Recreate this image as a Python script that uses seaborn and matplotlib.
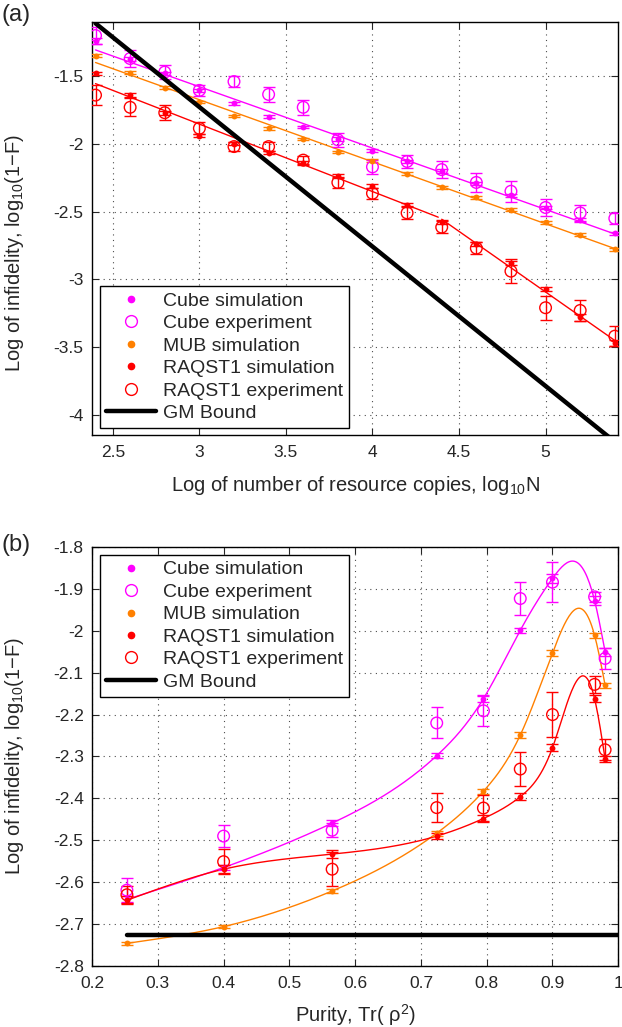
import numpy as np
import pandas as pd
import seaborn as sns
import matplotlib
matplotlib.use("Agg")
from matplotlib import pyplot as plt
from matplotlib.lines import Line2D

# ---- (a) infidelity vs number of resource copies ----
log_n = [2.4, 2.6, 2.8, 3.0, 3.2, 3.4, 3.6, 3.8, 4.0, 4.2, 4.4, 4.6, 4.8, 5.0, 5.2, 5.4]
cube_sim_a = [-1.24, -1.37, -1.48, -1.605, -1.70, -1.80, -1.875, -1.965,
              -2.05, -2.13, -2.20, -2.29, -2.38, -2.47, -2.56, -2.66]
cube_sim_a_err = [0.02, 0.015, 0.012, 0.012, 0.01, 0.01, 0.01, 0.012,
                  0.01, 0.012, 0.012, 0.012, 0.012, 0.012, 0.015, 0.012]
cube_exp_a = [-1.20, -1.37, -1.47, -1.605, -1.54, -1.635, -1.73, -1.97,
              -2.17, -2.13, -2.19, -2.285, -2.35, -2.47, -2.51, -2.55]
cube_exp_a_err = [0.06, 0.064, 0.053, 0.04, 0.04, 0.058, 0.054, 0.05,
                  0.05, 0.05, 0.06, 0.07, 0.077, 0.06, 0.058, 0.04]
mub_sim_a = [-1.35, -1.475, -1.585, -1.69, -1.795, -1.885, -1.965, -2.06,
             -2.125, -2.22, -2.32, -2.395, -2.485, -2.58, -2.67, -2.78]
mub_sim_a_err = [0.01, 0.01, 0.01, 0.01, 0.01, 0.01, 0.01, 0.01,
                 0.012, 0.012, 0.01, 0.01, 0.012, 0.01, 0.012, 0.012]
raq_sim_a = [-1.48, -1.64, -1.77, -1.94, -2.00, -2.065, -2.14, -2.24,
             -2.31, -2.45, -2.58, -2.74, -2.88, -3.075, -3.28, -3.47]
raq_sim_a_err = [0.012, 0.015, 0.015, 0.012, 0.012, 0.012, 0.015, 0.015,
                 0.015, 0.015, 0.015, 0.015, 0.015, 0.015, 0.025, 0.02]
raq_exp_a = [-1.64, -1.73, -1.77, -1.885, -2.02, -2.02, -2.12, -2.285,
             -2.365, -2.51, -2.615, -2.77, -2.94, -3.21, -3.23, -3.42]
raq_exp_a_err = [0.076, 0.065, 0.055, 0.045, 0.035, 0.035, 0.03, 0.04,
                 0.04, 0.048, 0.043, 0.043, 0.088, 0.09, 0.08, 0.076]
gm_a_x = [2.4, 5.4]
gm_a_y = [-1.11, -4.20]
raq_break = 4.4

# ---- (b) infidelity vs purity ----
purity = [0.253, 0.40, 0.565, 0.724, 0.795, 0.851, 0.90, 0.964, 0.98]
cube_sim_b = [-2.641, -2.565, -2.459, -2.298, -2.162, -1.999, -1.875, -1.928, -2.05]
cube_sim_b_err = [0.008, 0.006, 0.008, 0.006, 0.008, 0.006, 0.01, 0.01, 0.01]
cube_exp_b = [-2.619, -2.49, -2.476, -2.22, -2.191, -1.923, -1.884, -1.919, -2.066]
cube_exp_b_err = [0.028, 0.027, 0.017, 0.037, 0.036, 0.04, 0.048, 0.012, 0.025]
mub_sim_b = [-2.746, -2.706, -2.621, -2.483, -2.383, -2.249, -2.053, -2.011, -2.130]
mub_sim_b_err = [0.004, 0.004, 0.004, 0.006, 0.006, 0.008, 0.008, 0.006, 0.006]
raq_sim_b = [-2.643, -2.569, -2.533, -2.49, -2.448, -2.396, -2.279, -2.162, -2.306]
raq_sim_b_err = [0.01, 0.01, 0.01, 0.008, 0.008, 0.008, 0.008, 0.008, 0.006]
raq_exp_b = [-2.63, -2.551, -2.569, -2.422, -2.423, -2.33, -2.20, -2.128, -2.284]
raq_exp_b_err = [0.02, 0.03, 0.04, 0.035, 0.03, 0.04, 0.053, 0.02, 0.025]
gm_b_x = [0.253, 1.0]
gm_b_y = [-2.727, -2.727]

MAGENTA = "#ff00ff"
ORANGE = "#ff8000"
RED = "#ff0000"


def natural_spline(x, y, xs):
    x = np.asarray(x, float)
    y = np.asarray(y, float)
    n = len(x)
    h = np.diff(x)
    A = np.zeros((n, n))
    b = np.zeros(n)
    A[0, 0] = A[-1, -1] = 1
    for i in range(1, n - 1):
        A[i, i - 1] = h[i - 1]
        A[i, i] = 2 * (h[i - 1] + h[i])
        A[i, i + 1] = h[i]
        b[i] = 6 * ((y[i + 1] - y[i]) / h[i] - (y[i] - y[i - 1]) / h[i - 1])
    m = np.linalg.solve(A, b)
    i = np.clip(np.searchsorted(x, xs) - 1, 0, n - 2)
    hi = h[i]
    a = x[i + 1] - xs
    c = xs - x[i]
    return (m[i] * a ** 3 / (6 * hi) + m[i + 1] * c ** 3 / (6 * hi)
            + (y[i] / hi - m[i] * hi / 6) * a + (y[i + 1] / hi - m[i + 1] * hi / 6) * c)


sns.set_style("ticks")
plt.rcParams['font.family'] = ['Liberation Sans', 'DejaVu Sans']
plt.rcParams['mathtext.fontset'] = 'custom'
plt.rcParams['mathtext.rm'] = 'Liberation Sans'
plt.rcParams['mathtext.it'] = 'Liberation Sans:italic'
plt.rcParams['axes.unicode_minus'] = False
FS_LAB = 14.5
FS_TICK = 12.5
FS_LEG = 14

fig = plt.figure(figsize=(6.22, 10.27), dpi=100)
ax1 = fig.add_axes([0.148, 0.5764, 0.846, 0.4022])
ax2 = fig.add_axes([0.148, 0.0594, 0.846, 0.4080])


def draw_points(ax, x, sim, sim_err, color, exp=None, exp_err=None):
    ax.errorbar(x, sim, yerr=sim_err, fmt='none', ecolor=color, elinewidth=1,
                capsize=4, capthick=1, zorder=3)
    sns.scatterplot(x=x, y=sim, ax=ax, color=color, s=18, marker='o',
                    edgecolor=color, linewidth=0, zorder=4)
    if exp is not None:
        ax.errorbar(x, exp, yerr=exp_err, fmt='none', ecolor=color, elinewidth=1,
                    capsize=4, capthick=1, zorder=3)
        sns.scatterplot(x=x, y=exp, ax=ax, marker='o', s=70, facecolor='none',
                        edgecolor=color, linewidth=1, zorder=4)


# ---- panel (a) ----
df_a = pd.DataFrame({'n': log_n, 'cube': cube_sim_a, 'mub': mub_sim_a, 'raq': raq_sim_a})
for col, color in [('cube', MAGENTA), ('mub', ORANGE)]:
    k, q = np.polyfit(df_a['n'], df_a[col], 1)
    xx = np.array([log_n[0], log_n[-1]])
    sns.lineplot(x=xx, y=k * xx + q, ax=ax1, color=color, lw=1, zorder=2)
for part in [df_a[df_a['n'] < raq_break], df_a[df_a['n'] >= raq_break]]:
    k, q = np.polyfit(part['n'], part['raq'], 1)
    xx = np.array([part['n'].min(), part['n'].max() if part['n'].max() > raq_break else raq_break - 0.02])
    sns.lineplot(x=xx, y=k * xx + q, ax=ax1, color=RED, lw=1, zorder=2)

draw_points(ax1, log_n, cube_sim_a, cube_sim_a_err, MAGENTA, cube_exp_a, cube_exp_a_err)
draw_points(ax1, log_n, mub_sim_a, mub_sim_a_err, ORANGE)
draw_points(ax1, log_n, raq_sim_a, raq_sim_a_err, RED, raq_exp_a, raq_exp_a_err)
sns.lineplot(x=gm_a_x, y=gm_a_y, ax=ax1, color='black', lw=3.2, zorder=5)

ax1.set_xlim(2.38, 5.42)
ax1.set_ylim(-4.15, -1.1)
ax1.set_xticks([2.5, 3, 3.5, 4, 4.5, 5])
ax1.set_xticklabels(['2.5', '3', '3.5', '4', '4.5', '5'])
ax1.set_yticks([-4, -3.5, -3, -2.5, -2, -1.5])
ax1.set_yticklabels(['-4', '-3.5', '-3', '-2.5', '-2', '-1.5'])
ax1.set_xlabel('Log of number of resource copies, log$_{\\mathrm{10}}$N', fontsize=FS_LAB, labelpad=10)
ax1.set_ylabel('Log of infidelity, log$_{\\mathrm{10}}$(1\u2212F)', fontsize=FS_LAB)
ax1.yaxis.set_label_coords(-0.125, 0.44)

# ---- panel (b) ----
xs = np.linspace(purity[0], purity[-1], 400)
for vals, color in [(cube_sim_b, MAGENTA), (mub_sim_b, ORANGE), (raq_sim_b, RED)]:
    sns.lineplot(x=xs, y=natural_spline(purity, vals, xs), ax=ax2, color=color, lw=1, zorder=2)

draw_points(ax2, purity, cube_sim_b, cube_sim_b_err, MAGENTA, cube_exp_b, cube_exp_b_err)
draw_points(ax2, purity, mub_sim_b, mub_sim_b_err, ORANGE)
draw_points(ax2, purity, raq_sim_b, raq_sim_b_err, RED, raq_exp_b, raq_exp_b_err)
sns.lineplot(x=gm_b_x, y=gm_b_y, ax=ax2, color='black', lw=3.2, zorder=5)

ax2.set_xlim(0.2, 1.0)
ax2.set_ylim(-2.8, -1.8)
ax2.set_xticks(np.round(np.arange(0.2, 1.01, 0.1), 1))
ax2.set_xticklabels(['0.2', '0.3', '0.4', '0.5', '0.6', '0.7', '0.8', '0.9', '1'])
ax2.set_yticks(np.round(np.arange(-2.8, -1.79, 0.1), 1))
ax2.set_yticklabels(['-2.8', '-2.7', '-2.6', '-2.5', '-2.4', '-2.3', '-2.2', '-2.1', '-2', '-1.9', '-1.8'])
ax2.set_xlabel('Purity, Tr( \u03c1$^{\\mathrm{2}}$)', fontsize=FS_LAB, labelpad=8)
ax2.set_ylabel('Log of infidelity, log$_{\\mathrm{10}}$(1\u2212F)', fontsize=FS_LAB)
ax2.yaxis.set_label_coords(-0.125, 0.5)

handles = [
    Line2D([], [], ls='none', marker='o', ms=4.5, mfc=MAGENTA, mec=MAGENTA),
    Line2D([], [], ls='none', marker='o', ms=8.5, mfc='none', mec=MAGENTA),
    Line2D([], [], ls='none', marker='o', ms=4.5, mfc=ORANGE, mec=ORANGE),
    Line2D([], [], ls='none', marker='o', ms=4.5, mfc=RED, mec=RED),
    Line2D([], [], ls='none', marker='o', ms=8.5, mfc='none', mec=RED),
    Line2D([], [], color='black', lw=3.2),
]
labels = ['Cube simulation', 'Cube experiment', 'MUB simulation',
          'RAQST1 simulation', 'RAQST1 experiment', 'GM Bound']

for ax, loc, anchor in [(ax1, 'lower left', (0.015, 0.017)), (ax2, 'upper left', (0.015, 0.981))]:
    for s in ax.spines.values():
        s.set_visible(True)
        s.set_linewidth(1)
        s.set_color('black')
    ax.grid(True, ls=(0, (1, 4)), color='black', lw=0.8, alpha=0.7)
    ax.tick_params(direction='in', top=True, right=True, labelsize=FS_TICK, length=5, width=0.8)
    ax.tick_params(axis='x', pad=7)
    ax.tick_params(axis='y', pad=6)
    leg = ax.legend(handles, labels, loc=loc, bbox_to_anchor=anchor, fontsize=FS_LEG,
                    frameon=True, fancybox=False, edgecolor='black', framealpha=1,
                    handlelength=2.6, labelspacing=0.25, borderpad=0.3, handletextpad=0.35,
                    borderaxespad=0)
    leg.get_frame().set_linewidth(1)
    leg.set_zorder(10)

fig.text(0.002, 0.985, '(a)', fontsize=17, va='center', ha='left')
fig.text(0.002, 0.469, '(b)', fontsize=17, va='center', ha='left')

fig.savefig('out.png', dpi=100)
